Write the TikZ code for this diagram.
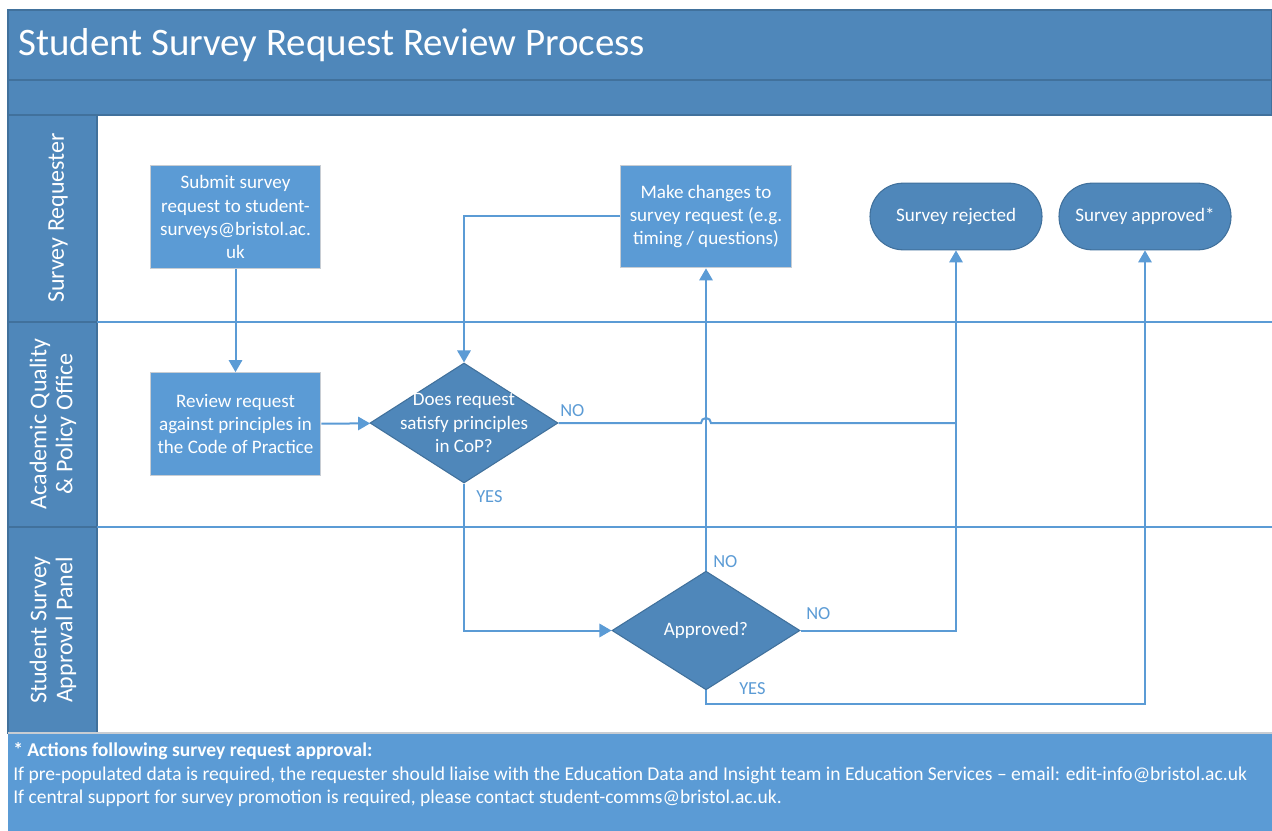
\documentclass[tikz,border=0pt]{standalone}
\usepackage{fontspec}
\setmainfont{Carlito}
\usetikzlibrary{arrows.meta,shapes.geometric}
\definecolor{band}{HTML}{4F87BA}
\definecolor{bandedge}{HTML}{41719C}
\definecolor{boxfill}{HTML}{5B9BD5}
\definecolor{lineblue}{HTML}{5B9BD5}
\definecolor{boxedge}{HTML}{C8CDD3}
\tikzset{
  proc/.style={rectangle, fill=boxfill, draw=boxedge, line width=0.8pt, minimum width=128pt, minimum height=77pt,
    text=white, align=center, inner sep=2pt, font=\fontsize{14.3}{17.3}\selectfont},
  term/.style={rectangle, rounded corners=24.9pt, fill=band, draw=bandedge, line width=0.8pt, minimum width=129pt, minimum height=50pt,
    text=white, align=center, font=\fontsize{14.3}{17.3}\selectfont},
  dec/.style={diamond, fill=band, draw=bandedge, line width=0.8pt, inner sep=0pt},
  dtext/.style={text=white, align=center, font=\fontsize{14.3}{17.3}\selectfont},
  conn/.style={draw=lineblue, line width=1.5pt, -{Triangle[length=9pt,width=10pt]}},
  plain/.style={draw=lineblue, line width=1.5pt},
  lbl/.style={text=lineblue, font=\fontsize{13.8}{16}\selectfont, inner sep=0pt},
  lane/.style={fill=band, draw=bandedge, line width=0.8pt},
  lanetext/.style={rotate=90, text=white, align=center, font=\fontsize{18}{19.5}\selectfont}
}
\begin{document}
\begin{tikzpicture}[x=0.75pt,y=-0.75pt]
\useasboundingbox (0,0) rectangle (1272,831);
\fill[white] (0,0) rectangle (1272,831);
% header bands
\draw[lane] (8,10) rectangle (1272,80);
\draw[lane] (8,80) rectangle (1272,115);
\node[anchor=west, text=white, font=\fontsize{29.2}{34}\selectfont, inner sep=0pt] (title) at (18,45) {Student Survey Request Review Process};
% lane label column
\draw[lane] (8,115) rectangle (97,322);
\draw[lane] (8,322) rectangle (97,527);
\draw[lane] (8,527) rectangle (97,733);
\node[lanetext] (lane1) at (58,218) {Survey Requester};
\node[lanetext] (lane2) at (53,424) {Academic Quality\\\& Policy Office};
\node[lanetext] (lane3) at (53,630) {Student Survey\\Approval Panel};
% lane separators
\draw[plain, line width=1.2pt] (97,322) -- (1272,322);
\draw[plain, line width=1.2pt] (97,527) -- (1272,527);
\draw[draw=bandedge, line width=1pt] (97,115) -- (1272,115);
% footer
\fill[boxfill] (8,733) rectangle (1272,831);
\draw[draw=boxedge, line width=1pt] (8,733) -- (1272,733);
\node[anchor=north west, align=left, text=white, font=\fontsize{14.65}{17.6}\selectfont, inner sep=0pt] (foot) at (13,742.5)
 {\textbf{* Actions following survey request approval:}\\
  If pre-populated data is required, the requester should liaise with the Education Data and Insight team in Education Services -- email: edit-info@bristol.ac.uk\\
  If central support for survey promotion is required, please contact student-comms@bristol.ac.uk.};
% nodes
\node[proc] (submit) at (235.5,217) {Submit survey\\request to student-\\surveys@bristol.ac.\\uk};
\node[proc] (review) at (235.5,424) {Review request\\against principles in\\the Code of Practice};
\node[proc] (changes) at (706,216.5) {Make changes to\\survey request (e.g.\\timing / questions)};
\node[term] (rejected) at (956,216.5) {Survey rejected};
\node[term] (approved) at (1145,216.5) {Survey approved*};
\node[dec, minimum width=141pt, minimum height=90pt] (d1) at (464,423) {};
\node[dtext] (d1t) at (d1) {Does request\\satisfy principles\\in CoP?};
\node[dec, minimum width=141pt, minimum height=89pt] (d2) at (706,630.5) {};
\node[dtext] (d2t) at (d2) {Approved?};
% connectors
\draw[conn] (submit) -- (review);
\draw[conn] (review) -- (d1);
\draw[conn] (changes.west) -| (d1.north);
\draw[conn] (d1.south) |- (d2.west);
\draw[conn] (d2.north) -- (changes.south);
\draw[conn] (d2.east) -| (rejected.south);
\coordinate (hop) at (d2.north |- d1.east);
\coordinate (join) at (rejected.south |- d1.east);
\draw[plain] (d1.east) -- ([xshift=-3.75pt]hop) arc[start angle=180, end angle=0, radius=3.75pt] -- (join);
\draw[conn] (d2.south) -- ++(0,14) -| (approved.south);
% labels
\node[lbl, anchor=west] (no1) at (560,411) {NO};
\node[lbl, anchor=west] (yes1) at (476,497) {YES};
\node[lbl, anchor=west] (no2) at (713,562) {NO};
\node[lbl, anchor=west] (no3) at (806,614) {NO};
\node[lbl, anchor=west] (yes2) at (739,689) {YES};
\end{tikzpicture}
\end{document}
